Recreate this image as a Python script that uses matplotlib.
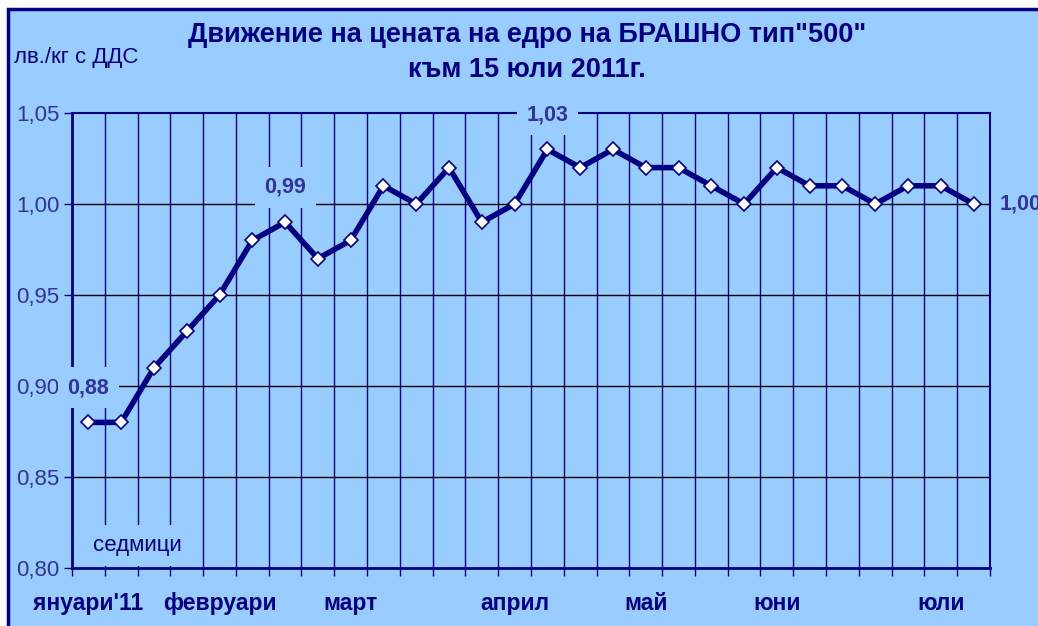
import numpy as np
import matplotlib.pyplot as plt
from matplotlib.patches import Rectangle

# Данни: цена на едро на брашно тип 500 по седмици
prices = [0.88, 0.88, 0.91, 0.93, 0.95, 0.98, 0.99, 0.97, 0.98, 1.01,
          1.00, 1.02, 0.99, 1.00, 1.03, 1.02, 1.03, 1.02, 1.02, 1.01,
          1.00, 1.02, 1.01, 1.01, 1.00, 1.01, 1.01, 1.00]
month_pos = [0, 4, 8, 13, 17, 21, 26]
month_labels = ["януари'11", "февруари", "март", "април", "май", "юни", "юли"]
labeled_points = [0, 6, 14]
y_ticks = [0.80, 0.85, 0.90, 0.95, 1.00, 1.05]

navy = '#000080'
label_blue = '#333399'
bg = '#99CCFF'

plt.rcParams['font.family'] = ['Liberation Sans', 'DejaVu Sans']

fig = plt.figure(figsize=(10.38, 6.26), dpi=100)
fig.patch.set_facecolor('white')
# фон на цялата диаграма
fig.patches.append(Rectangle((8 / 1038, -0.05), 1.1, 1 - 9 / 626 + 0.05,
                             transform=fig.transFigure, facecolor=bg,
                             edgecolor=navy, linewidth=2.5, zorder=-10))

ax = fig.add_axes([72 / 1038, 1 - 568 / 626, 918 / 1038, 455 / 626])
ax.set_facecolor(bg)

x = np.arange(len(prices))
ax.plot(x, prices, color=navy, linewidth=4, marker='D', markersize=7.5,
        markerfacecolor='white', markeredgecolor=navy, markeredgewidth=1.2,
        zorder=5, clip_on=False)

ax.set_xlim(-0.5, len(prices) - 0.5)
ax.set_ylim(0.80, 1.05)

# хоризонтална решетка
ax.set_yticks(y_ticks)
ax.set_yticklabels([f'{v:.2f}'.replace('.', ',') for v in y_ticks],
                   color=label_blue, fontsize=16)
for v in y_ticks[1:-1]:
    ax.axhline(v, color='black', linewidth=1, zorder=1)
ax.tick_params(axis='y', length=6, width=1, color=navy, pad=3)

# вертикална решетка по границите на седмиците
bounds = np.arange(len(prices) + 1) - 0.5
ax.set_xticks(bounds, minor=True)
ax.grid(True, which='minor', axis='x', color=navy, linewidth=1, zorder=1)
ax.tick_params(axis='x', which='minor', length=6, width=1, color=navy)
ax.set_xticks(month_pos)
ax.set_xticklabels(month_labels, fontsize=16.5, fontweight='bold', color=navy)
ax.tick_params(axis='x', which='major', length=0, pad=17)
ax.set_axisbelow(True)

for s in ['left', 'bottom']:
    ax.spines[s].set_color(navy)
    ax.spines[s].set_linewidth(2)
for s in ['top', 'right']:
    ax.spines[s].set_color(navy)
    ax.spines[s].set_linewidth(1.5)

box = dict(facecolor=bg, edgecolor='none', pad=7)
for i in labeled_points:
    ax.annotate(f'{prices[i]:.2f}'.replace('.', ','), (x[i], prices[i]),
                xytext=(0, 25), textcoords='offset points', ha='center',
                va='center', fontsize=15.5, fontweight='bold', color=label_blue,
                bbox=box, zorder=10, annotation_clip=False)
ax.annotate(f'{prices[-1]:.2f}'.replace('.', ','), (x[-1], prices[-1]),
            xytext=(19, 0), textcoords='offset points', ha='left',
            va='center', fontsize=15.5, fontweight='bold', color=label_blue,
            zorder=10, annotation_clip=False)

ax.text(1.5, 0.8125, 'седмици', ha='center', va='center', fontsize=16,
        color=navy, bbox=box, zorder=10)

fig.text(527 / 1038, 1 - 35 / 626, 'Движение на цената на едро на БРАШНО тип"500"',
         ha='center', va='center', fontsize=19.5, fontweight='bold', color=navy)
fig.text(527 / 1038, 1 - 70 / 626, 'към 15 юли 2011г.',
         ha='center', va='center', fontsize=19.5, fontweight='bold', color=navy)
fig.text(14 / 1038, 1 - 57 / 626, 'лв./кг с ДДС', ha='left', va='center',
         fontsize=16, color=navy)

fig.savefig('out.png', dpi=100, facecolor=fig.get_facecolor())
